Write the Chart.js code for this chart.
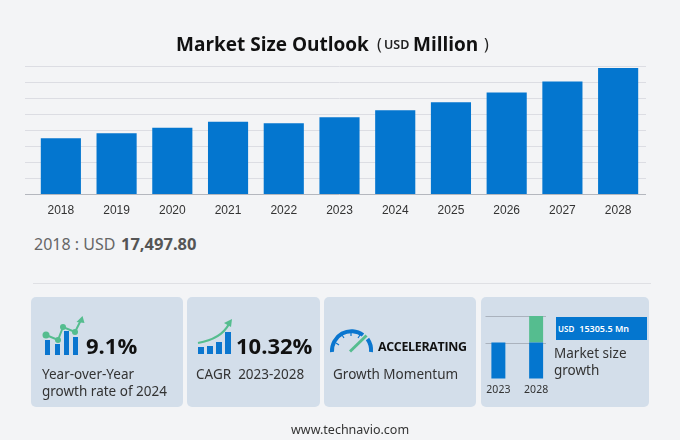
<!DOCTYPE html>
<html>
<head>
<meta charset="utf-8">
<script src="https://cdn.jsdelivr.net/npm/chart.js@4"></script>
<style>
  html, body { margin: 0; padding: 0; }
  body { width: 680px; height: 440px; background: #f3f4f6; overflow: hidden; position: relative; font-family: "Noto Sans", sans-serif; color: #333; }
  .abs { position: absolute; white-space: nowrap; }
  .card { position: absolute; top: 297px; height: 110px; background: #d3deea; border-radius: 5px; }
  .big { font-family: "Open Sans", sans-serif; font-weight: 700; font-size: 22px; line-height: 28px; color: #111; }
  .label { font-size: 13.5px; line-height: 17px; color: #333; }
  #main-wrap { position: absolute; left: 0; top: 0; width: 680px; height: 227px; }
  #mini-wrap { position: absolute; left: 470px; top: 305px; width: 90px; height: 96px; }
</style>
</head>
<body>
<div id="main-wrap"><canvas id="main-chart"></canvas></div>

<div class="abs" style="left:176px;top:30px;font:700 19px/28px 'Open Sans',sans-serif;color:#111;">Market Size Outlook</div>
<div class="abs" style="left:377px;top:30px;font:400 16px/28px 'Noto Sans',sans-serif;color:#222;">(</div>
<div class="abs" style="left:384px;top:31px;font:600 12.5px/28px 'Noto Sans',sans-serif;color:#222;">USD</div>
<div class="abs" style="left:413px;top:30px;font:700 19px/28px 'Open Sans',sans-serif;color:#111;">Million</div>
<div class="abs" style="left:484px;top:30px;font:400 16px/28px 'Noto Sans',sans-serif;color:#222;">)</div>

<div class="abs" style="left:34px;top:233px;font:400 16px/22px 'Noto Sans',sans-serif;color:#666;">2018 : USD</div>
<div class="abs" style="left:121px;top:233px;font:700 16.5px/22px 'Open Sans',sans-serif;color:#555;">17,497.80</div>

<div class="abs" style="left:33px;top:283px;width:618px;height:1px;background:#dfe0e4;"></div>

<div class="card" style="left:31px;width:152px;"></div>
<div class="card" style="left:187px;width:133px;"></div>
<div class="card" style="left:324px;width:152px;"></div>
<div class="card" style="left:481px;width:168px;"></div>

<!-- icons -->
<svg class="abs" style="left:0;top:0;" width="680" height="440">
  <g fill="#0a76cf">
    <rect x="45" y="340" width="5" height="15"/><rect x="55" y="344" width="5" height="11"/>
    <rect x="64" y="331" width="5" height="24"/><rect x="73" y="337" width="5" height="18"/>
    <rect x="198" y="347" width="6" height="7"/><rect x="207" y="346" width="6" height="8"/>
    <rect x="216" y="342" width="6" height="12"/><rect x="225" y="332" width="6" height="22"/>
  </g>
  <g fill="#55bd8f" stroke="none">
    <circle cx="46" cy="335" r="3.5"/><circle cx="58" cy="340" r="3"/><circle cx="63" cy="327" r="3"/><circle cx="75" cy="332" r="3"/>
    <path d="M82.5 316 L84.5 323 L76.5 322 Z"/>
    <path d="M232 319 L231 327 L224 323 Z"/>
  </g>
  <polyline points="46,335 58,340 63,327 75,332 81,320" fill="none" stroke="#55bd8f" stroke-width="2"/>
  <path d="M198 343 Q221 339 229 324" fill="none" stroke="#55bd8f" stroke-width="2.2"/>
  <path d="M332 352 A19.5 19.5 0 0 1 363 335" fill="none" stroke="#0a76cf" stroke-width="4"/>
  <path d="M367.5 339 A19.5 19.5 0 0 1 371 352" fill="none" stroke="#0a76cf" stroke-width="4"/>
  <g stroke="#0a76cf" stroke-width="1.2">
    <path d="M336 343 L339 345 M342 335 L344 338 M351 332 L351 336 M360 335 L358 338"/>
  </g>
  <path d="M350 351.5 L366.5 335.5" stroke="#55bd8f" stroke-width="3" fill="none"/>
</svg>

<div class="abs big" style="left:86px;top:331px;">9.1%</div>
<div class="abs label" style="left:42px;top:366px;">Year-over-Year<br>growth rate of 2024</div>

<div class="abs big" style="left:236px;top:331px;">10.32%</div>
<div class="abs label" style="left:196px;top:366px;">CAGR&nbsp; 2023-2028</div>

<div class="abs" style="left:378px;top:337px;font:700 12.4px/20px 'Open Sans',sans-serif;color:#111;letter-spacing:-0.3px;">ACCELERATING</div>
<div class="abs label" style="left:333px;top:366px;">Growth Momentum</div>

<div id="mini-wrap"><canvas id="mini-chart"></canvas></div>
<div class="abs" style="left:556px;top:317px;width:91px;height:23px;background:#0476cf;color:#fff;font:600 9px/23px 'Noto Sans',sans-serif;">
  <span style="margin-left:2px;font-size:8px;">USD</span><span style="margin-left:5px;">15305.5 Mn</span>
</div>
<div class="abs label" style="left:554px;top:345px;">Market size<br>growth</div>

<div class="abs" style="left:291px;top:421px;font:400 12.5px/18px 'Noto Sans',sans-serif;color:#333;">www.technavio.com</div>

<script>
const years = ['2018', '2019', '2020', '2021', '2022', '2023', '2024', '2025', '2026', '2027', '2028'];
const marketSize = [17497.8, 19060, 20810, 22690, 22190, 24060, 26250, 28750, 31750, 35190, 39365];
const yMax = 40000;
const yStep = 5000;

const miniYears = ['2023', '2028'];
const miniBase = [24060, 24060];
const miniGrowth = [0, 15305.5];
const miniMin = 3350;
const miniMax = 39365;

new Chart(document.getElementById('main-chart'), {
    type: 'bar',
    data: {
        labels: years,
        datasets: [{
            data: marketSize,
            backgroundColor: '#0476cf',
            categoryPercentage: 1,
            barPercentage: 0.72
        }]
    },
    options: {
        responsive: true,
        maintainAspectRatio: false,
        animation: false,
        layout: { padding: { left: 25, right: 34, top: 66, bottom: 0 } },
        plugins: { legend: { display: false }, tooltip: { enabled: false } },
        scales: {
            x: {
                grid: { display: false, drawTicks: false },
                border: { display: false },
                ticks: { color: '#333', font: { family: 'Liberation Sans', size: 12 }, padding: 9, maxRotation: 0 }
            },
            y: {
                min: 0,
                max: yMax,
                border: { display: false },
                grid: {
                    color: ctx => ctx.tick && ctx.tick.value === 0 ? '#b4b7be' : '#dcdde3',
                    tickLength: 8
                },
                ticks: { stepSize: yStep, display: false }
            }
        }
    }
});

// short reference lines behind the two small bars
const miniLines = {
    id: 'miniLines',
    beforeDatasetsDraw(chart) {
        const { ctx, chartArea, scales } = chart;
        ctx.save();
        ctx.strokeStyle = '#aab2bd';
        ctx.lineWidth = 1;
        [miniBase[0], miniBase[1] + miniGrowth[1]].forEach(v => {
            const y = Math.round(scales.y.getPixelForValue(v)) + 0.5;
            ctx.beginPath();
            ctx.moveTo(chartArea.left + 6, y);
            ctx.lineTo(chartArea.right - 9, y);
            ctx.stroke();
        });
        ctx.restore();
    }
};

new Chart(document.getElementById('mini-chart'), {
    type: 'bar',
    data: {
        labels: miniYears,
        datasets: [
            { data: miniBase, backgroundColor: '#0476cf', categoryPercentage: 1, barPercentage: 0.37 },
            { data: miniGrowth, backgroundColor: '#55bd8f', categoryPercentage: 1, barPercentage: 0.37 }
        ]
    },
    options: {
        responsive: true,
        maintainAspectRatio: false,
        animation: false,
        layout: { padding: { left: 9.5, right: 5, top: 11, bottom: 0 } },
        plugins: { legend: { display: false }, tooltip: { enabled: false } },
        scales: {
            x: {
                stacked: true,
                grid: { display: false, drawTicks: false },
                border: { display: false },
                ticks: { color: '#333', font: { family: 'Noto Sans', size: 10.5 }, padding: 5, maxRotation: 0 }
            },
            y: {
                stacked: true,
                display: false,
                min: miniMin,
                max: miniMax
            }
        }
    },
    plugins: [miniLines]
});
</script>
</body>
</html>
